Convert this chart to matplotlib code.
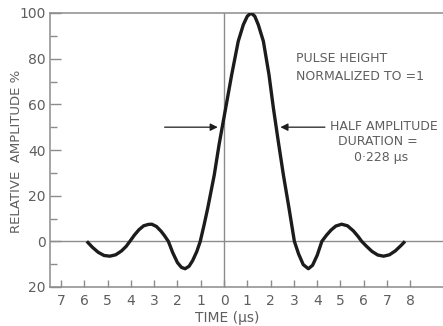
import matplotlib
matplotlib.use("Agg")
import matplotlib.pyplot as plt
from matplotlib.ticker import FixedLocator, FuncFormatter

# Pulse response: time (tick units) and relative amplitude (%)
time = [-5.89, -5.65, -5.4, -5.15, -4.9, -4.65, -4.4, -4.2, -4.04,
        -3.85, -3.65, -3.45, -3.25, -3.1, -2.9, -2.7, -2.55, -2.39,
        -2.2, -2.0, -1.83, -1.67, -1.5, -1.35, -1.17, -1.02,
        -0.86, -0.70, -0.42, -0.21, 0.07, 0.33, 0.61, 0.83, 1.0, 1.16,
        1.32, 1.47, 1.69, 1.93, 2.12, 2.33, 2.55, 2.79, 3.02,
        3.2, 3.4, 3.62, 3.8, 4.0, 4.2,
        4.4, 4.6, 4.8, 5.05, 5.3, 5.55, 5.75, 5.91,
        6.1, 6.35, 6.6, 6.85, 7.1, 7.35, 7.6, 7.77]
amplitude = [0.0, -2.6, -4.8, -6.2, -6.5, -5.9, -4.2, -2.2, 0.0,
             2.7, 5.1, 6.8, 7.4, 7.5, 6.5, 4.4, 2.4, 0.0,
             -5.0, -9.3, -11.4, -12.0, -10.9, -8.5, -4.5, 0.0,
             7.0, 14.5, 29.0, 42.5, 58.3, 73.0, 87.6, 94.9, 98.6, 100.0,
             98.6, 94.9, 87.6, 73.0, 58.3, 43.7, 29.0, 14.5, 0.0,
             -5.5, -10.2, -12.0, -10.5, -6.1, 0.0,
             2.7, 5.0, 6.7, 7.5, 6.8, 4.6, 2.2, 0.0,
             -2.0, -4.4, -6.0, -6.5, -5.9, -4.2, -1.8, 0.0]

x_ticks = list(range(-7, 9))
y_major = [-20, 0, 20, 40, 60, 80, 100]
y_minor = [-10, 10, 30, 50, 70, 90]
half_level = 50

ink = "#1c1c1c"
grey_text = "#5e5e5e"
grey_line = "#8c8c8c"

plt.rcParams["font.family"] = ["DejaVu Sans"]

W, H = 443, 326
fig = plt.figure(figsize=(W / 100, H / 100), dpi=100)
ax = fig.add_axes([50 / W, 39 / H, 393 / W, 274 / H])
ax.set_xlim(-7.47, 9.40)
ax.set_ylim(-20, 100)


def px_text(x, y, s, **kw):
    """Place a text at a pixel position measured from the top-left corner."""
    fig.text(x / W, 1 - y / H, s, **kw)


for side in ("left", "bottom", "top"):
    ax.spines[side].set_color(grey_line)
    ax.spines[side].set_linewidth(1.1)
ax.spines["right"].set_visible(False)

ax.axhline(0, color=grey_line, lw=1.0, zorder=1)
ax.axvline(0, color=grey_line, lw=1.0, zorder=1)

ax.plot(time, amplitude, color=ink, lw=2.4, solid_capstyle="butt",
        solid_joinstyle="round", zorder=3)

ax.xaxis.set_major_locator(FixedLocator(x_ticks))
ax.xaxis.set_major_formatter(FuncFormatter(lambda v, p: f"{abs(int(round(v)))}"))
ax.yaxis.set_major_locator(FixedLocator(y_major))
ax.yaxis.set_minor_locator(FixedLocator(y_minor))
ax.yaxis.set_major_formatter(FuncFormatter(lambda v, p: f"{abs(int(round(v)))}"))

ax.tick_params(axis="x", direction="in", length=5, width=1, color=grey_line,
               labelsize=10, labelcolor=grey_text, pad=5)
ax.tick_params(axis="y", which="major", direction="in", length=8, width=1,
               color=grey_line, labelsize=10, labelcolor=grey_text, pad=3)
ax.tick_params(axis="y", which="minor", direction="in", length=5, width=1,
               color=grey_line)

px_text(227, 318, "TIME (\u03bcs)", ha="center", va="center",
        fontsize=10, color=grey_text)
px_text(17, 151, "RELATIVE  AMPLITUDE %", ha="center", va="center",
        rotation=90, fontsize=9.5, color=grey_text)

px_text(296, 58, "PULSE HEIGHT", ha="left", va="center",
        fontsize=9, color=grey_text)
px_text(296, 76, "NORMALIZED TO =1", ha="left", va="center",
        fontsize=9, color=grey_text)
px_text(384, 126, "HALF AMPLITUDE", ha="center", va="center",
        fontsize=9, color=grey_text)
px_text(378, 142, "DURATION =", ha="center", va="center",
        fontsize=9, color=grey_text)
px_text(381, 158, "0\u00b7228 \u03bcs", ha="center", va="center",
        fontsize=9, color=grey_text)

arrow = dict(arrowstyle="-|>", color=ink, lw=0.9, mutation_scale=11,
             shrinkA=0, shrinkB=0)
ax.annotate("", xy=(-0.27, half_level), xytext=(-2.55, half_level),
            arrowprops=arrow)
ax.annotate("", xy=(2.42, half_level), xytext=(4.33, half_level),
            arrowprops=arrow)

fig.savefig("out.png", dpi=100)
